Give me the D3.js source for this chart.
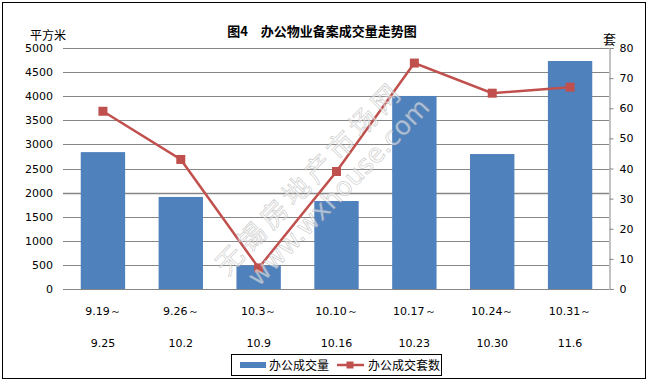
<!DOCTYPE html>
<html>
<head>
<meta charset="utf-8">
<script src="https://cdn.jsdelivr.net/npm/d3@7.9.0/dist/d3.min.js"></script>
<style>
  body { margin: 0; background: #fff; }
  svg { display: block; }
</style>
</head>
<body>
<svg id="chart" width="649" height="384"></svg>
<script>
const periodsStart = ["9.19～", "9.26～", "10.3～", "10.10～", "10.17～", "10.24～", "10.31～"];
const periodsEnd = ["9.25", "10.2", "10.9", "10.16", "10.23", "10.30", "11.6"];
const areaValues = [2840, 1910, 490, 1825, 4005, 2800, 4730];
const unitValues = [59, 43, 7, 39, 75, 65, 67];
const leftTicks = d3.range(0, 5001, 500);
const rightTicks = d3.range(0, 81, 10);

const cjk = "'Noto Sans CJK SC', sans-serif";
const num = "'DejaVu Sans', sans-serif";

const svg = d3.select("#chart");
const margin = { top: 48, right: 40, bottom: 95, left: 64 };
const W = 649, H = 384;
const x0 = margin.left, x1 = W - margin.right, y0 = H - margin.bottom, y1 = margin.top;

// outer frame
svg.append("rect")
  .attr("x", 2.5).attr("y", 2.5)
  .attr("width", 643).attr("height", 376)
  .attr("fill", "#fff").attr("stroke", "#000").attr("stroke-width", 1);

const x = d3.scaleBand().domain(d3.range(periodsStart.length)).range([x0, x1]).paddingInner(0.43).paddingOuter(0.215);
const yL = d3.scaleLinear().domain([0, 5000]).range([y0, y1]);
const yR = d3.scaleLinear().domain([0, 80]).range([y0, y1]);

// gridlines
svg.append("g")
  .selectAll("line")
  .data(leftTicks)
  .join("line")
  .attr("x1", x0 - 1).attr("x2", x1)
  .attr("y1", d => Math.round(yL(d)) + 0.5).attr("y2", d => Math.round(yL(d)) + 0.5)
  .attr("stroke", "#868686")
  .attr("stroke-width", d => d === 2000 ? 1.5 : 1);

// left labels
svg.append("g")
  .selectAll("text")
  .data(leftTicks)
  .join("text")
  .attr("x", 53).attr("y", d => yL(d) + 4)
  .attr("text-anchor", "end")
  .attr("font-family", num).attr("font-size", 11)
  .text(d => d);

// right axis
const rightAxis = d3.axisRight(yR).tickValues(rightTicks).tickSize(4).tickPadding(6);
const gR = svg.append("g").attr("transform", `translate(${x1 + 0.5},0)`).call(rightAxis);
gR.select(".domain").attr("stroke", "#868686");
gR.selectAll(".tick line").attr("stroke", "#868686");
gR.selectAll(".tick text").attr("font-family", num).attr("font-size", 11).attr("fill", "#000");

// bars
svg.append("g")
  .selectAll("rect")
  .data(areaValues)
  .join("rect")
  .attr("x", (d, i) => x(i))
  .attr("width", x.bandwidth())
  .attr("y", d => yL(d))
  .attr("height", d => y0 - yL(d))
  .attr("fill", "#4F81BD");

// x axis line
svg.append("line")
  .attr("x1", x0 - 1).attr("x2", x1)
  .attr("y1", y0 + 0.5).attr("y2", y0 + 0.5)
  .attr("stroke", "#868686");

// line series
const cx = i => x(i) + x.bandwidth() / 2;
svg.append("path")
  .datum(unitValues)
  .attr("d", d3.line().x((d, i) => cx(i)).y(d => yR(d)))
  .attr("fill", "none")
  .attr("stroke", "#C0504D")
  .attr("stroke-width", 2.5);
svg.append("g")
  .selectAll("rect")
  .data(unitValues)
  .join("rect")
  .attr("x", (d, i) => cx(i) - 4.5)
  .attr("y", d => yR(d) - 4.5)
  .attr("width", 9).attr("height", 9)
  .attr("fill", "#C0504D");

// x labels
const xl = svg.append("g").attr("font-family", num).attr("font-size", 11).attr("text-anchor", "middle");
xl.selectAll(".l1").data(periodsStart).join("text").attr("class", "l1")
  .attr("x", (d, i) => cx(i)).attr("y", 315).text(d => d);
xl.selectAll(".l2").data(periodsEnd).join("text").attr("class", "l2")
  .attr("x", (d, i) => cx(i)).attr("y", 347).text(d => d);

// watermark
const wm = svg.append("g").attr("transform", "translate(322,190) rotate(-46)");
wm.append("text")
  .attr("x", 0).attr("y", -8)
  .attr("text-anchor", "middle")
  .attr("font-family", cjk).attr("font-size", 27).attr("letter-spacing", 5)
  .attr("fill", "rgba(255,255,255,0.55)").attr("stroke", "rgba(150,150,150,0.45)").attr("stroke-width", 0.8)
  .text("无锡房地产市场网");
wm.append("text")
  .attr("x", 10).attr("y", 22)
  .attr("text-anchor", "middle")
  .attr("font-family", num).attr("font-size", 26)
  .attr("fill", "rgba(255,255,255,0.55)").attr("stroke", "rgba(150,150,150,0.45)").attr("stroke-width", 0.8)
  .text("www.wxhouse.com");

// title and unit labels
svg.append("text")
  .attr("x", 322).attr("y", 36)
  .attr("text-anchor", "middle")
  .attr("font-family", cjk).attr("font-size", 13).attr("font-weight", "bold")
  .text("图4　办公物业备案成交量走势图");
svg.append("text")
  .attr("x", 30).attr("y", 40)
  .attr("font-family", cjk).attr("font-size", 12)
  .text("平方米");
svg.append("text")
  .attr("x", 603).attr("y", 44)
  .attr("font-family", cjk).attr("font-size", 13)
  .text("套");

// legend
const lg = svg.append("g");
lg.append("rect").attr("x", 231.5).attr("y", 354.5).attr("width", 210).attr("height", 21)
  .attr("fill", "#fff").attr("stroke", "#000");
lg.append("rect").attr("x", 240).attr("y", 362).attr("width", 26).attr("height", 6).attr("fill", "#4F81BD");
lg.append("text").attr("x", 269).attr("y", 370).attr("font-family", cjk).attr("font-size", 12).text("办公成交量");
lg.append("line").attr("x1", 337).attr("x2", 364).attr("y1", 365).attr("y2", 365)
  .attr("stroke", "#C0504D").attr("stroke-width", 2.5);
lg.append("rect").attr("x", 346.5).attr("y", 361.5).attr("width", 7).attr("height", 7).attr("fill", "#C0504D");
lg.append("text").attr("x", 368).attr("y", 370).attr("font-family", cjk).attr("font-size", 12).text("办公成交套数");
</script>
</body>
</html>
